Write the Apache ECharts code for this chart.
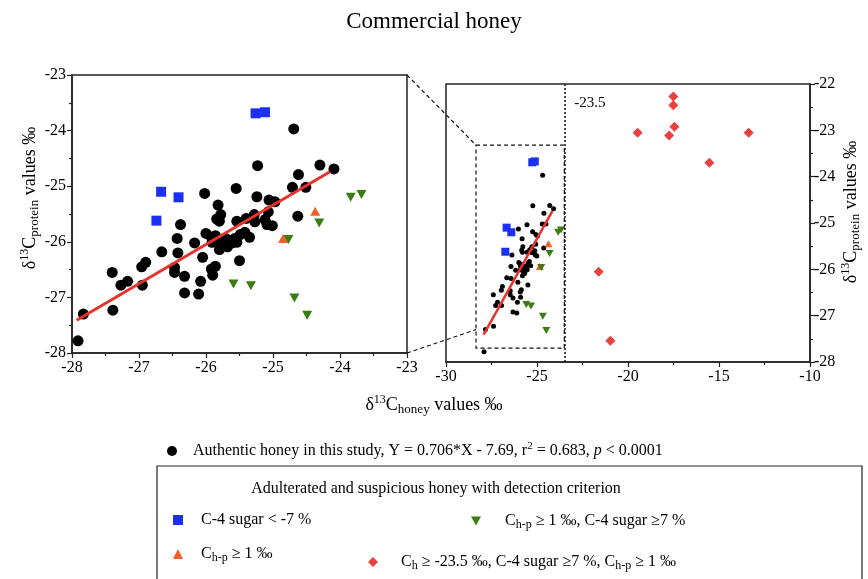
<!DOCTYPE html>
<html><head><meta charset="utf-8">
<script src="https://cdn.jsdelivr.net/npm/echarts@6/dist/echarts.min.js"></script>
<style>html,body{margin:0;padding:0;background:#fff}#c{width:868px;height:579px}</style>
</head><body><div id="c"></div>
<script>
// ---------- data ----------
const authentic = [
  [-24.69,-23.97],[-24.09,-24.69],[-25.23,-24.63],[-24.30,-24.62],[-24.62,-24.79],
  [-25.55,-25.04],[-26.02,-25.13],[-24.71,-25.02],[-24.51,-25.02],[-25.24,-25.19],
  [-25.06,-25.25],[-24.97,-25.28],[-25.82,-25.34],[-25.78,-25.51],[-25.84,-25.59],
  [-25.80,-25.63],[-25.07,-25.46],[-24.63,-25.54],[-25.28,-25.51],[-25.40,-25.58],
  [-25.54,-25.63],[-25.27,-25.64],[-25.12,-25.60],[-25.09,-25.69],[-25.01,-25.71],
  [-26.38,-25.69],[-26.00,-25.85],[-25.92,-25.92],[-25.86,-25.89],[-26.43,-25.94],
  [-26.17,-26.02],[-25.91,-26.01],[-25.81,-25.96],[-25.71,-25.94],[-25.65,-25.97],
  [-25.57,-25.94],[-25.49,-25.87],[-25.42,-25.83],[-25.35,-25.92],[-25.77,-26.04],
  [-25.69,-26.05],[-25.61,-26.02],[-25.54,-26.01],[-25.80,-26.14],[-25.68,-26.09],
  [-26.66,-26.18],[-26.42,-26.20],[-26.05,-26.28],[-25.50,-26.34],[-26.90,-26.37],
  [-26.96,-26.45],[-26.47,-26.46],[-26.47,-26.55],[-25.92,-26.49],[-25.86,-26.44],
  [-25.90,-26.60],[-26.32,-26.62],[-26.08,-26.71],[-26.95,-26.78],[-26.32,-26.92],
  [-26.11,-26.94],[-27.40,-26.55],[-27.27,-26.78],[-27.17,-26.71],[-27.39,-27.23],
  [-27.83,-27.30],[-27.91,-27.78]
];
const c4Sugar = [[-26.67,-25.10],[-26.41,-25.20],[-26.74,-25.62],[-25.26,-23.69],[-25.12,-23.67]];
const chp = [[-24.37,-25.45],[-24.85,-25.94]];
const chpC4 = [[-23.84,-25.20],[-23.68,-25.15],[-24.31,-25.66],[-24.77,-25.96],
               [-25.59,-26.76],[-25.33,-26.79],[-24.68,-27.01],[-24.49,-27.32]];
const chC4chp = [[-17.51,-22.27],[-17.51,-22.46],[-17.45,-22.92],[-19.47,-23.05],[-17.74,-23.11],
                 [-13.37,-23.05],[-15.53,-23.70],[-21.61,-26.05],[-20.97,-27.54]];
const regLine = [[-27.93,-27.41],[-24.15,-24.74]];
const leftXTicks = [-28,-27,-26,-25,-24,-23];
const leftYTicks = [-28,-27,-26,-25,-24,-23];
const rightXTicks = [-30,-25,-20,-15,-10];
const rightYTicks = [-28,-27,-26,-25,-24,-23,-22];
const cutoff = -23.5;
const zoomBox = [-28.35,-23.32,-23.5,-27.7];
const connectorLowY = -27.3;

// ---------- chart ----------
const FONT = "'Liberation Serif','Times New Roman',serif";
const chart = echarts.init(document.getElementById('c'));
const downTri = 'path://M0,0L10,0L5,9Z';
const legRich = {
  s:{fontFamily:FONT, fontSize:12, lineHeight:12, verticalAlign:'bottom', color:'#000'},
  sup:{fontFamily:FONT, fontSize:11, lineHeight:11, verticalAlign:'top', color:'#000'},
  i:{fontFamily:FONT, fontSize:16, lineHeight:20, fontStyle:'italic', color:'#000'}
};

function axis(ticks, gridIndex, extra, labelExtra) {
  return Object.assign({
    gridIndex, type:'value', min:ticks[0], max:ticks[ticks.length-1], interval:ticks[1]-ticks[0],
    axisLine:{show:true, onZero:false, lineStyle:{color:'#222', width:1.5}},
    axisTick:{show:true, inside:false, length:5, lineStyle:{color:'#222', width:1.2}},
    minorTick:{show:true, splitNumber:2, length:3, lineStyle:{color:'#222', width:1.2}},
    splitLine:{show:false}, minorSplitLine:{show:false},
    axisLabel:Object.assign({color:'#000', fontFamily:FONT, fontSize:16, margin:7, showMinLabel:true, showMaxLabel:true}, labelExtra||{})
  }, extra||{});
}

const col = {black:'#000', blue:'#1b2ff5', orange:'#f0622a', green:'#3a7d10', red:'#e8413f', line:'#e8322b'};

function scatter(name, data, gi, symbol, size, color, z) {
  return {name, type:'scatter', xAxisIndex:gi, yAxisIndex:gi, data, symbol, symbolSize:size,
    itemStyle:{color, opacity:1}, z:z||2, emphasis:{disabled:true}};
}

const series = [
  scatter('Authentic', authentic, 0, 'circle', 11, col.black, 2),
  scatter('C4', c4Sugar, 0, 'rect', 10, col.blue, 3),
  scatter('Chp', chp, 0, 'triangle', [10,9], col.orange, 3),
  scatter('ChpC4', chpC4, 0, downTri, [10,9], col.green, 3),
  {name:'Regression', type:'line', xAxisIndex:0, yAxisIndex:0, data:regLine, symbol:'none',
   lineStyle:{color:col.line, width:3}, z:4, silent:true},
  Object.assign(scatter('Authentic', authentic, 1, 'circle', 5, col.black, 2), {
    markArea:{silent:true, itemStyle:{color:'rgba(0,0,0,0)', borderColor:'#111', borderWidth:1.2, borderType:[4,3]},
      data:[[{coord:[zoomBox[0], zoomBox[1]]},{coord:[zoomBox[2], zoomBox[3]]}]]},
    markLine:{silent:true, symbol:'none', label:{show:false}, lineStyle:{type:[2,2], color:'#111', width:1.5},
      data:[{xAxis:cutoff}]}
  }),
  scatter('C4', c4Sugar, 1, 'rect', 8, col.blue, 3),
  scatter('Chp', chp, 1, 'triangle', [8,7], col.orange, 3),
  scatter('ChpC4', chpC4, 1, downTri, [8,7], col.green, 3),
  scatter('Ch', chC4chp, 1, 'diamond', 10, col.red, 3),
  {name:'Regression', type:'line', xAxisIndex:1, yAxisIndex:1, data:regLine, symbol:'none',
   lineStyle:{color:col.line, width:2.5}, z:4, silent:true}
];

function lg(left, top, name, icon, text, pad) {
  return {left, top, padding:0, itemWidth:10, itemHeight:10, selectedMode:false, data:[{name, icon}],
    formatter:()=>text,
    textStyle:{fontFamily:FONT, fontSize:16, lineHeight:20, color:'#000', padding:[0,0,0,pad], rich:legRich}};
}

const option = {
  animation:false,
  backgroundColor:'#fff',
  textStyle:{fontFamily:FONT},
  title:{text:'Commercial honey', left:'center', top:5,
    textStyle:{fontFamily:FONT, fontSize:23, fontWeight:'normal', color:'#000'}},
  grid:[
    {left:72, top:75, width:335, height:278, show:true, borderColor:'#222', borderWidth:1.5},
    {left:446, top:84, width:364, height:278, show:true, borderColor:'#222', borderWidth:1.5}
  ],
  xAxis:[ axis(leftXTicks,0), axis(rightXTicks,1) ],
  yAxis:[ axis(leftYTicks,0,{position:'left'},{margin:6}),
          axis(rightYTicks,1,{position:'right'},{margin:4}) ],
  legend:[
    lg(167,441,'Authentic','circle','Authentic honey in this study, Y = 0.706*X - 7.69, r{sup|2} = 0.683, {i|p} < 0.0001',11),
    lg(173,510,'C4','rect','C-4 sugar < -7 %',13),
    lg(173,544,'Chp','triangle','C{s|h-p} ≥ 1 ‰',13),
    lg(471,511,'ChpC4',downTri,'C{s|h-p} ≥ 1 ‰, C-4 sugar ≥7 %',19),
    lg(368,552,'Ch','diamond','C{s|h} ≥ -23.5 ‰, C-4 sugar ≥7 %, C{s|h-p} ≥ 1 ‰',18)
  ],
  series
};
chart.setOption(option);

// ---------- decorations positioned through the chart's own scales ----------
const pTL0 = chart.convertToPixel({gridIndex:0}, [leftXTicks[leftXTicks.length-1], leftYTicks[leftYTicks.length-1]]);
const pBL0 = chart.convertToPixel({gridIndex:0}, [leftXTicks[leftXTicks.length-1], leftYTicks[0]]);
const pBoxTop = chart.convertToPixel({gridIndex:1}, [zoomBox[0], zoomBox[1]]);
const pBoxLow = chart.convertToPixel({gridIndex:1}, [zoomBox[0], connectorLowY]);
const pCut = chart.convertToPixel({gridIndex:1}, [cutoff, rightYTicks[rightYTicks.length-1]]);
const axisRich = {
  s:{fontFamily:FONT, fontSize:13, lineHeight:13, verticalAlign:'bottom', fill:'#000', color:'#000'},
  sup:{fontFamily:FONT, fontSize:12, lineHeight:12, verticalAlign:'top', fill:'#000', color:'#000'}
};
const dash = {stroke:'#111', lineWidth:1.2, lineDash:[4,3]};
const axisTitle = (x, y, rot, txt) => ({type:'text', x, y, rotation:rot, silent:true,
  style:{text:txt, fontFamily:FONT, fontSize:18, lineHeight:22, fill:'#000',
    align:'center', verticalAlign:'middle', rich:axisRich}});

chart.setOption({graphic:[
  {type:'line', shape:{x1:pTL0[0], y1:pTL0[1], x2:pBoxTop[0], y2:pBoxTop[1]}, style:dash, silent:true},
  {type:'line', shape:{x1:pBL0[0], y1:pBL0[1], x2:pBoxLow[0], y2:pBoxLow[1]}, style:dash, silent:true},
  {type:'text', x:pCut[0]+10, y:pCut[1]+19, silent:true,
   style:{text:'-23.5', fontFamily:FONT, fontSize:15, fill:'#000', align:'left', verticalAlign:'middle'}},
  axisTitle(434, 405, 0, 'δ{sup|13}C{s|honey} values ‰'),
  axisTitle(30, 198, Math.PI/2, 'δ{sup|13}C{s|protein} values ‰'),
  axisTitle(851, 212, Math.PI/2, 'δ{sup|13}C{s|protein} values ‰'),
  {type:'rect', shape:{x:157, y:466, width:705, height:140}, silent:true,
   style:{fill:'none', stroke:'#222', lineWidth:1.2}},
  {type:'text', x:436, y:489, silent:true,
   style:{text:'Adulterated and suspicious honey with detection criterion', fontFamily:FONT, fontSize:16,
     fill:'#000', align:'center', verticalAlign:'middle'}}
]});
</script>
</body></html>
